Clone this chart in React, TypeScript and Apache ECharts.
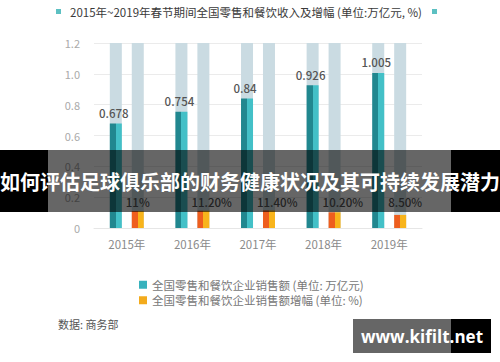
import React, { useEffect, useRef } from "react";
import * as echarts from "echarts";

const years = ["2015年", "2016年", "2017年", "2018年", "2019年"];
const sales = [0.678, 0.754, 0.84, 0.926, 1.005];
const growth = [11, 11.2, 11.4, 10.2, 8.5];
const growthLabels = ["11%", "11.20%", "11.40%", "10.20%", "8.50%"];
const salesName = "全国零售和餐饮企业销售额 (单位: 万亿元)";
const growthName = "全国零售和餐饮企业销售额增幅 (单位: %)";
const titleText = "2015年~2019年春节期间全国零售和餐饮收入及增幅 (单位:万亿元, %)";
const bannerText = "如何评估足球俱乐部的财务健康状况及其可持续发展潜力";
const sourceText = "数据: 商务部";
const watermarkText = "www.kifilt.net";

const FONT = "'Noto Sans CJK SC', 'Noto Sans', sans-serif";

export default function App() {
  const ref = useRef<HTMLDivElement>(null);
  useEffect(() => {
    if (!ref.current) return;
    const chart = echarts.init(ref.current, undefined, { renderer: "svg" });
    const tealGrad = new echarts.graphic.LinearGradient(0, 0, 1, 0, [
      { offset: 0, color: "#21878f" },
      { offset: 0.5, color: "#21878f" },
      { offset: 0.5, color: "#43c0c7" },
      { offset: 1, color: "#43c0c7" },
    ]);
    const orangeGrad = new echarts.graphic.LinearGradient(0, 0, 1, 0, [
      { offset: 0, color: "#ee5e1e" },
      { offset: 0.5, color: "#ee5e1e" },
      { offset: 0.5, color: "#f8b41b" },
      { offset: 1, color: "#f8b41b" },
    ]);
    const bg = { color: "#cadbe2" };
    chart.setOption({
      animation: false,
      backgroundColor: "#ffffff",
      textStyle: { fontFamily: FONT },
      grid: { left: 94, width: 328, top: 43, height: 185, containLabel: false },
      legend: {
        orient: "vertical",
        left: 134,
        top: 274,
        itemWidth: 8,
        itemHeight: 8,
        itemGap: 4,
        icon: "rect",
        textStyle: { color: "#777", fontSize: 11.5, fontFamily: FONT },
        data: [
          { name: salesName, itemStyle: { color: "#38b2bd" } },
          { name: growthName, itemStyle: { color: "#f3ab1c" } },
        ],
      },
      xAxis: {
        type: "category",
        data: years,
        axisTick: { show: false },
        axisLine: { lineStyle: { color: "#e6e6e6" } },
        axisLabel: { color: "#8a8a8a", fontSize: 11.5, margin: 10 },
      },
      yAxis: [
        {
          type: "value",
          min: 0,
          max: 1.2,
          interval: 0.2,
          axisLine: { show: false },
          axisTick: { show: false },
          splitLine: { lineStyle: { color: "#ebebeb" } },
          axisLabel: {
            color: "#aaa",
            fontSize: 11,
            margin: 14,
            formatter: (v: number) => (v === 0 ? "0" : v.toFixed(1)),
          },
        },
        {
          type: "value",
          min: 0,
          max: 120,
          interval: 20,
          show: false,
          splitLine: { show: false },
        },
      ],
      series: [
        {
          name: salesName,
          type: "bar",
          data: sales,
          barWidth: 12,
          barGap: "83%",
          showBackground: true,
          backgroundStyle: bg,
          itemStyle: { color: tealGrad },
          label: {
            show: true,
            position: "top",
            distance: 5,
            offset: [-2, 0],
            color: "#555",
            fontSize: 11.5,
            fontWeight: 500,
          },
        },
        {
          name: growthName,
          type: "bar",
          yAxisIndex: 1,
          data: growth,
          barWidth: 12,
          barGap: "83%",
          showBackground: true,
          backgroundStyle: bg,
          itemStyle: { color: orangeGrad },
          label: {
            show: true,
            position: "insideBottomLeft",
            distance: 0,
            offset: [-6, -20],
            color: "#555",
            fontSize: 11.5,
            fontWeight: 500,
            formatter: (p: any) => growthLabels[p.dataIndex],
          },
        },
      ],
      graphic: [
        {
          type: "rect",
          z: 100,
          shape: { x: 56, y: 9, width: 5, height: 5 },
          style: { fill: "#5cc0c2" },
        },
        {
          type: "rect",
          z: 100,
          shape: { x: 432, y: 9, width: 5, height: 5 },
          style: { fill: "#5cc0c2" },
        },
        {
          type: "text",
          z: 100,
          x: 246,
          y: 12,
          style: {
            text: titleText,
            fill: "#3a3a3a",
            fontSize: 11.5,
            fontFamily: FONT,
            align: "center",
            verticalAlign: "middle",
          },
        },
        {
          type: "text",
          z: 100,
          x: 58,
          y: 324,
          style: {
            text: sourceText,
            fill: "#555",
            fontSize: 11,
            fontFamily: "'Noto Sans CJK SC', serif",
            align: "left",
            verticalAlign: "middle",
          },
        },
        {
          type: "rect",
          z: 200,
          shape: { x: 0, y: 150, width: 48, height: 62 },
          style: { fill: "#000" },
        },
        {
          type: "rect",
          z: 200,
          shape: { x: 451, y: 150, width: 49, height: 62 },
          style: { fill: "#000" },
        },
        {
          type: "rect",
          z: 200,
          shape: { x: 48, y: 150, width: 403, height: 62 },
          style: { fill: "rgba(0,0,0,0.6)" },
        },
        {
          type: "text",
          z: 201,
          x: 250,
          y: 181,
          style: {
            text: bannerText,
            fill: "#fff",
            fontSize: 20,
            fontWeight: "bold",
            fontFamily: FONT,
            align: "center",
            verticalAlign: "middle",
          },
        },
        {
          type: "rect",
          z: 200,
          shape: { x: 353, y: 319, width: 98, height: 34 },
          style: { fill: "rgba(0,0,0,0.6)" },
        },
        {
          type: "rect",
          z: 200,
          shape: { x: 451, y: 319, width: 40, height: 34 },
          style: { fill: "#000" },
        },
        {
          type: "text",
          z: 201,
          x: 422,
          y: 336,
          style: {
            text: watermarkText,
            fill: "#fff",
            fontSize: 17,
            fontWeight: "bold",
            fontFamily: "'Open Sans', sans-serif",
            align: "center",
            verticalAlign: "middle",
          },
        },
      ],
    });
    return () => chart.dispose();
  }, []);
  return (
    <div
      ref={ref}
      style={{ position: "fixed", left: 0, top: 0, width: 500, height: 362 }}
    />
  );
}
